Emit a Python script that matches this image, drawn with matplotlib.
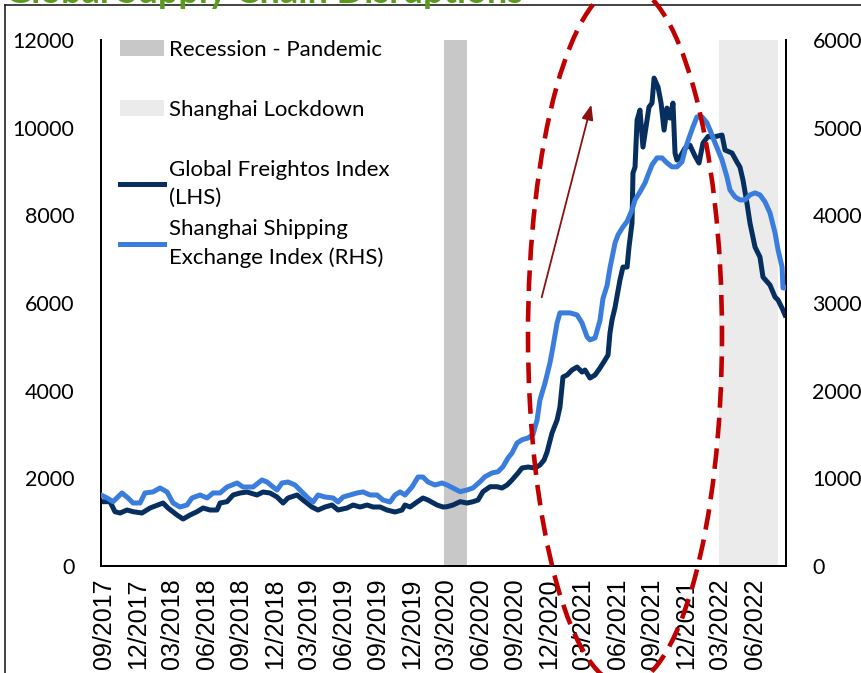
import matplotlib
matplotlib.use('Agg')
import matplotlib.pyplot as plt
from matplotlib.patches import Ellipse, Patch
from matplotlib.lines import Line2D

# ---------------- data (decimal years) ----------------
fbx_t = [2017.645, 2017.711, 2017.747, 2017.784, 2017.835, 2017.879, 2017.944, 2018.003, 2018.061, 2018.098,
         2018.134, 2018.200, 2018.244, 2018.295, 2018.346, 2018.390, 2018.441, 2018.492, 2018.514, 2018.565,
         2018.609, 2018.660, 2018.711, 2018.784, 2018.828, 2018.879, 2018.930, 2018.974, 2019.010, 2019.076,
         2019.120, 2019.185, 2019.229, 2019.280, 2019.331, 2019.375, 2019.441, 2019.485, 2019.536, 2019.587,
         2019.631, 2019.682, 2019.733, 2019.791, 2019.842, 2019.864, 2019.901, 2019.952, 2019.995, 2020.032,
         2020.098, 2020.141, 2020.171, 2020.214, 2020.266, 2020.317, 2020.360, 2020.397, 2020.433, 2020.485,
         2020.536, 2020.572, 2020.609, 2020.645, 2020.689, 2020.718, 2020.762, 2020.813, 2020.849, 2020.879,
         2020.901, 2020.937, 2020.974, 2020.995, 2021.017, 2021.047, 2021.083, 2021.120, 2021.156, 2021.178,
         2021.214, 2021.251, 2021.287, 2021.324, 2021.346, 2021.360, 2021.375, 2021.397, 2021.433, 2021.455,
         2021.485, 2021.499, 2021.521, 2021.528, 2021.543, 2021.558, 2021.579, 2021.601, 2021.623, 2021.645,
         2021.667, 2021.682, 2021.711, 2021.733, 2021.755, 2021.776, 2021.798, 2021.820, 2021.835, 2021.849,
         2021.871, 2021.908, 2021.944, 2021.981, 2022.010, 2022.039, 2022.076, 2022.112, 2022.178, 2022.200,
         2022.251, 2022.287, 2022.309, 2022.331, 2022.360, 2022.382, 2022.419, 2022.455, 2022.477, 2022.528,
         2022.565, 2022.587, 2022.616, 2022.638]
fbx_v = [1467, 1467, 1239, 1209, 1277, 1239, 1209, 1323, 1391, 1437,
         1323, 1163, 1072, 1163, 1239, 1323, 1277, 1277, 1437, 1467,
         1620, 1665, 1688, 1620, 1688, 1665, 1574, 1437, 1551, 1620,
         1505, 1346, 1277, 1346, 1391, 1277, 1323, 1391, 1346, 1391,
         1346, 1346, 1277, 1232, 1277, 1391, 1346, 1460, 1551, 1505,
         1391, 1346, 1353, 1391, 1467, 1437, 1467, 1505, 1695, 1809,
         1809, 1779, 1848, 1962, 2121, 2235, 2258, 2235, 2304, 2418,
         2600, 3034, 3330, 3627, 4311, 4357, 4471, 4539, 4425, 4471,
         4288, 4357, 4516, 4699, 4813, 5315, 5611, 5900, 6524, 6820,
         6820, 7276, 7824, 8964, 9101, 10173, 10401, 9557, 10014, 10470,
         10561, 11131, 10926, 10561, 9945, 10447, 10219, 10561, 9421, 9261,
         9329, 9535, 9600, 9350, 9193, 9649, 9800, 9785, 9831, 9489,
         9421, 9215, 9101, 8805, 8280, 7824, 7276, 7048, 6592, 6410,
         6136, 6067, 5885, 5725]

scfi_t = [2017.645, 2017.689, 2017.733, 2017.798, 2017.842, 2017.879, 2017.930, 2017.966, 2018.025, 2018.076,
          2018.127, 2018.171, 2018.222, 2018.273, 2018.309, 2018.368, 2018.419, 2018.463, 2018.514, 2018.565,
          2018.638, 2018.682, 2018.755, 2018.820, 2018.857, 2018.901, 2018.930, 2018.966, 2019.010, 2019.061,
          2019.112, 2019.156, 2019.193, 2019.229, 2019.280, 2019.339, 2019.375, 2019.412, 2019.463, 2019.514,
          2019.558, 2019.609, 2019.660, 2019.703, 2019.755, 2019.791, 2019.828, 2019.864, 2019.915, 2019.959,
          2019.995, 2020.032, 2020.083, 2020.134, 2020.171, 2020.214, 2020.266, 2020.317, 2020.360, 2020.412,
          2020.448, 2020.499, 2020.543, 2020.579, 2020.616, 2020.645, 2020.682, 2020.718, 2020.762, 2020.798,
          2020.828, 2020.849, 2020.886, 2020.922, 2020.944, 2020.974, 2020.995, 2021.068, 2021.120, 2021.156,
          2021.193, 2021.214, 2021.251, 2021.287, 2021.309, 2021.339, 2021.360, 2021.397, 2021.419, 2021.455,
          2021.485, 2021.521, 2021.543, 2021.579, 2021.616, 2021.638, 2021.667, 2021.703, 2021.740, 2021.776,
          2021.813, 2021.849, 2021.886, 2021.908, 2021.937, 2021.966, 2021.995, 2022.032, 2022.068, 2022.090,
          2022.127, 2022.178, 2022.214, 2022.236, 2022.273, 2022.309, 2022.346, 2022.382, 2022.419, 2022.455,
          2022.492, 2022.528, 2022.565, 2022.587, 2022.616, 2022.623, 2022.645]
scfi_v = [810, 776, 734, 833, 776, 719, 719, 833, 845, 890,
          845, 719, 673, 696, 776, 810, 776, 833, 833, 901,
          947, 901, 901, 981, 958, 901, 867, 947, 958, 924,
          845, 776, 730, 810, 787, 776, 730, 787, 810, 833,
          845, 810, 810, 753, 730, 810, 845, 810, 901, 1015,
          1015, 958, 924, 947, 924, 890, 848, 867, 890, 962,
          1019, 1061, 1076, 1133, 1232, 1289, 1403, 1440, 1460, 1500,
          1666, 1894, 2088, 2316, 2499, 2773, 2887, 2887, 2864, 2773,
          2613, 2579, 2601, 2800, 3050, 3200, 3400, 3685, 3777, 3868,
          3930, 4062, 4176, 4267, 4370, 4461, 4575, 4655, 4655, 4598,
          4553, 4553, 4610, 4747, 4883, 5009, 5123, 5123, 5055, 4975,
          4826, 4632, 4438, 4290, 4210, 4176, 4176, 4233, 4256, 4233,
          4153, 4028, 3800, 3606, 3412, 3172, 3172]

recession_span = (2020.149, 2020.317)
lockdown_span = (2022.156, 2022.587)
x_range = (2017.645, 2022.645)

x_labels = ['09/2017', '12/2017', '03/2018', '06/2018', '09/2018', '12/2018', '03/2019', '06/2019',
            '09/2019', '12/2019', '03/2020', '06/2020', '09/2020', '12/2020', '03/2021', '06/2021',
            '09/2021', '12/2021', '03/2022', '06/2022']
x_ticks = [int(s[3:]) + (int(s[:2]) - 1) / 12 for s in x_labels]
left_ticks = [0, 2000, 4000, 6000, 8000, 10000, 12000]
right_ticks = [0, 1000, 2000, 3000, 4000, 5000, 6000]

title = "Global Supply Chain Disruptions"
labels = ["Recession - Pandemic", "Shanghai Lockdown",
          "Global Freightos Index\n(LHS)", "Shanghai Shipping\nExchange Index (RHS)"]

# ---------------- styling ----------------
W, H = 862, 673
DARK = '#062e5e'
BLUE = '#3b7ddd'
REC = '#c8c8c8'
LOCK = '#ebebeb'
FONT = 'Lato'
FS = 16

fig = plt.figure(figsize=(W / 100, H / 100), dpi=100)
ax = fig.add_axes([101 / W, 1 - 566 / H, (786 - 101) / W, (566 - 40) / H])
ax2 = ax.twinx()

ax.axvspan(*recession_span, color=REC, lw=0, zorder=0)
ax.axvspan(*lockdown_span, color=LOCK, lw=0, zorder=0)
ax.plot(fbx_t, fbx_v, color=DARK, lw=3.6, solid_joinstyle='round', zorder=3)
ax2.plot(scfi_t, scfi_v, color=BLUE, lw=3.6, solid_joinstyle='round', zorder=3)

ax.set_xlim(*x_range)
ax.set_ylim(0, 12000)
ax2.set_ylim(0, 6000)
ax.set_xticks(x_ticks)
ax.set_xticklabels(x_labels, rotation=90, family='Liberation Sans', fontsize=18)
ax.set_yticks(left_ticks)
ax.set_yticklabels([str(v) for v in left_ticks], family=FONT, fontsize=15.5)
ax2.set_yticks(right_ticks)
ax2.set_yticklabels([str(v) for v in right_ticks], family=FONT, fontsize=15.5)
ax.tick_params(axis='x', length=0, pad=9)
ax.tick_params(axis='y', length=0, pad=19)
ax2.tick_params(axis='y', length=0, pad=19)

for a in (ax, ax2):
    a.spines['top'].set_visible(False)
    for s in ('left', 'right', 'bottom'):
        a.spines[s].set_linewidth(1.4)
        a.spines[s].set_color('black')

# legends
h1 = [Patch(facecolor=REC, edgecolor='none'), Patch(facecolor=LOCK, edgecolor='none')]
h2 = [Line2D([], [], color=DARK, lw=3.6), Line2D([], [], color=BLUE, lw=3.6)]
common = dict(loc='upper left', frameon=False, borderpad=0, borderaxespad=0,
              handlelength=2.0, handletextpad=0.2, prop={'family': FONT, 'size': FS})
leg1 = ax2.legend(h1, labels[:2], bbox_to_anchor=(120 / W, 1 - 40 / H),
                  bbox_transform=fig.transFigure, labelspacing=1.8, **common)
ax2.add_artist(leg1)
leg2 = ax2.legend(h2, labels[2:], bbox_to_anchor=(120 / W, 1 - 160 / H),
                  bbox_transform=fig.transFigure, labelspacing=0.5, **common)
for t in leg2.get_texts():
    t.set_linespacing(1.5)

# title (cut off at top) and chart frame
fig.text(5 / W, 1 - 3 / H, title, color='#5a9b1e', fontsize=26, fontweight='bold',
         family=FONT, va='baseline', ha='left')
fig.add_artist(Line2D([5 / W, 5 / W], [0, 1 - 5 / H], transform=fig.transFigure,
                      color='#222222', lw=1.2))
fig.add_artist(Line2D([5 / W, 1], [1 - 5 / H, 1 - 5 / H], transform=fig.transFigure,
                      color='#222222', lw=1.2))

# red dashed ellipse and arrow (annotation)
ell = Ellipse((625 / W, 1 - 335 / H), 194 / W, 700 / H, transform=fig.transFigure,
              fill=False, edgecolor='#c00000', lw=3.3, linestyle=(0, (4.5, 2.2)), zorder=10)
fig.add_artist(ell)
ax.annotate('', xy=(592 / W, 1 - 102 / H), xytext=(541 / W, 1 - 300 / H),
            xycoords='figure fraction', textcoords='figure fraction',
            arrowprops=dict(arrowstyle='-|>,head_length=0.9,head_width=0.35',
                            color='#8b1111', lw=1.3), zorder=10)

fig.savefig('out.png', dpi=100)
